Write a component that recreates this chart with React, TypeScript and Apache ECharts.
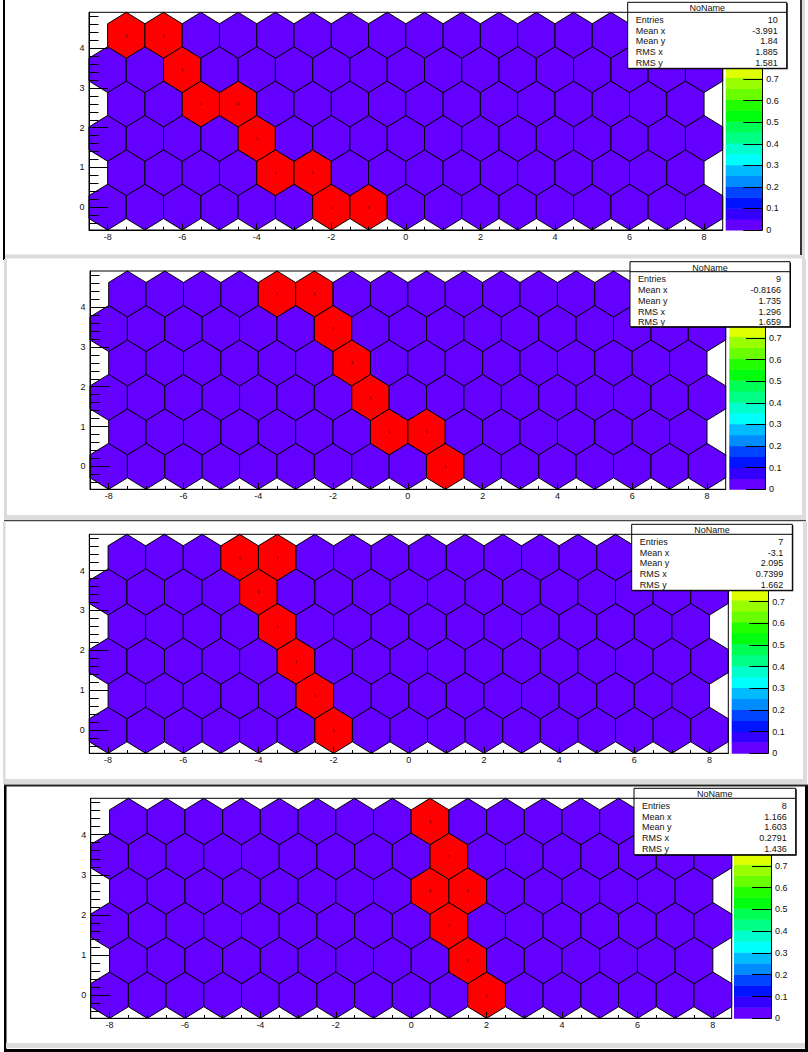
import React, { useEffect, useRef } from "react";
import * as echarts from "echarts";

// ---------- data ----------
const X_MIN = -8.5;
const X_MAX = 8.5;
const HEX_SIDE = 0.57735; // side of each honeycomb cell (cell width = 1)
const ROW_Y = [0, 0.866, 1.7321, 2.5981, 3.4641, 4.3301];
const EVEN_ROW_X = [-8, -7, -6, -5, -4, -3, -2, -1, 0, 1, 2, 3, 4, 5, 6, 7, 8];
const ODD_ROW_X = [-7.5, -6.5, -5.5, -4.5, -3.5, -2.5, -1.5, -0.5, 0.5, 1.5, 2.5, 3.5, 4.5, 5.5, 6.5, 7.5];
const Y_MIN = -0.57735;
const Y_MAX = 4.90745;

const X_MAJOR_TICKS = [-8, -6, -4, -2, 0, 2, 4, 6, 8];
const X_MINOR_TICKS = [-8, -7.5, -7, -6.5, -6, -5.5, -5, -4.5, -4, -3.5, -3, -2.5, -2, -1.5, -1, -0.5, 0, 0.5, 1, 1.5, 2, 2.5, 3, 3.5, 4, 4.5, 5, 5.5, 6, 6.5, 7, 7.5, 8];
const Y_MAJOR_TICKS = [0, 1, 2, 3, 4];
const Y_MINOR_TICKS = [-0.4, -0.2, 0.2, 0.4, 0.6, 0.8, 1.2, 1.4, 1.6, 1.8, 2.2, 2.4, 2.6, 2.8, 3.2, 3.4, 3.6, 3.8, 4.2, 4.4, 4.6, 4.8];
const PALETTE_TICKS = [0, 0.1, 0.2, 0.3, 0.4, 0.5, 0.6, 0.7, 0.8, 0.9, 1];
const PALETTE_LABELS = [0, 0.1, 0.2, 0.3, 0.4, 0.5, 0.6, 0.7]; // the rest sit under the stats box
const Z_MAX = 1.01;
const PALETTE_COLORS = [
  "#6300ff", "#3300ff", "#0014ff", "#0044ff", "#008bff", "#00bbff", "#00fffc", "#00ffcc", "#00ff85", "#00ff55",
  "#00ff0e", "#22ff00", "#69ff00", "#99ff00", "#e0ff00", "#ffee00", "#ffa700", "#ff7700", "#ff3000", "#ff0000",
];

// filled bins: [x, y, content]
const FILLED_1 = [
  [-7.5, 4.3301, 1], [-6.5, 4.3301, 1], [-6, 3.4641, 1], [-5.5, 2.5981, 1], [-4.5, 2.5981, 1],
  [-4, 1.7321, 1], [-3.5, 0.866, 1], [-2.5, 0.866, 1], [-2, 0, 1], [-1, 0, 1],
];
const FILLED_2 = [
  [-3.5, 4.3301, 1], [-2.5, 4.3301, 1], [-2, 3.4641, 1], [-1.5, 2.5981, 1],
  [-1, 1.7321, 1], [-0.5, 0.866, 1], [0.5, 0.866, 1], [1, 0, 1],
];
const FILLED_3 = [
  [-4.5, 4.3301, 1], [-3.5, 4.3301, 1], [-4, 3.4641, 1], [-3.5, 2.5981, 1],
  [-3, 1.7321, 1], [-2.5, 0.866, 1], [-2, 0, 1],
];
const FILLED_4 = [
  [0.5, 4.3301, 1], [1, 3.4641, 1], [0.5, 2.5981, 1], [1.5, 2.5981, 1],
  [1, 1.7321, 1], [1.5, 0.866, 1], [2, 0, 1],
];

const STATS_TITLE = "NoName";
const STATS_LABELS = ["Entries", "Mean x", "Mean y", "RMS x", "RMS y"];
const STATS_1 = ["10", "-3.991", "1.84", "1.885", "1.581"];
const STATS_2 = ["9", "-0.8166", "1.735", "1.296", "1.659"];
const STATS_3 = ["7", "-3.1", "2.095", "0.7399", "1.662"];
const STATS_4 = ["8", "1.166", "1.603", "0.2791", "1.436"];

// ---------- layout ----------
const PANELS = [
  { frame: [89, 12.3, 722.7, 230], pal: [725.7, 762.3], stats: [627.7, 2.3, 786.7, 68.3], filled: FILLED_1, values: STATS_1 },
  { frame: [90, 271, 725.7, 489.3], pal: [729.3, 765], stats: [630, 261.7, 790, 326.7], filled: FILLED_2, values: STATS_2 },
  { frame: [89.3, 534.3, 728.3, 753.3], pal: [731.7, 768.3], stats: [631.7, 524.3, 792.3, 590.3], filled: FILLED_3, values: STATS_3 },
  { frame: [90.7, 798.3, 731.7, 1018.3], pal: [734, 771], stats: [634, 788.3, 795.7, 854.7], filled: FILLED_4, values: STATS_4 },
];

const FONT = "Liberation Sans, Arial, Helvetica, sans-serif";
const TXT = "#111";

function levelColor(v: number) {
  const lvl = Math.max(0, Math.min(PALETTE_COLORS.length - 1, Math.floor((v / Z_MAX) * PALETTE_COLORS.length)));
  return PALETTE_COLORS[lvl];
}

function buildBins(filled: number[][]) {
  const bins: number[][] = [];
  ROW_Y.forEach((y, r) => {
    const xs = r % 2 === 0 ? EVEN_ROW_X : ODD_ROW_X;
    xs.forEach((x) => {
      const f = filled.find((p) => Math.abs(p[0] - x) < 1e-6 && Math.abs(p[1] - y) < 1e-3);
      bins.push([x, y, f ? f[2] : 0]);
    });
  });
  return bins;
}

function chromeRects() {
  const R = (x: number, y: number, w: number, h: number, fill: string) => ({
    type: "rect", z: -10, silent: true, shape: { x, y, width: w, height: h }, style: { fill },
  });
  const G = "#dcdcdc";
  return [
    R(0, 0, 808, 1052, "#ffffff"),
    // panel 1
    R(3, 0, 2, 260, "#000"),
    R(5, 254.5, 797, 4, G),
    R(800, 0, 2, 255, "#333"),
    R(802, 0, 3, 259, G),
    // panel 2
    R(4, 259, 3, 262, G),
    R(802, 259, 4, 262, G),
    R(4, 515, 802, 5, G),
    R(4, 520, 802, 1.2, "#444"),
    // panel 3
    R(3, 521, 2.5, 263, G),
    R(803, 521, 4, 263, G),
    R(3, 779, 804, 5, G),
    // panel 4
    R(4, 784.5, 804, 2, "#222"),
    R(4, 786, 2.5, 266, "#000"),
    R(6, 1043, 799, 5, G),
    R(4, 1049, 804, 3, "#000"),
    R(805, 786, 3, 266, "#000"),
  ];
}

function statsBox(s: number[], values: string[]) {
  const [l, t, r, b] = s;
  const els: any[] = [];
  els.push({ type: "rect", z: 100, shape: { x: l + 1, y: t + 1, width: r - l, height: b - t }, style: { fill: "#000" } });
  els.push({ type: "rect", z: 101, shape: { x: l, y: t, width: r - l, height: b - t }, style: { fill: "#fff", stroke: "#000", lineWidth: 1 } });
  els.push({ type: "line", z: 102, shape: { x1: l, y1: t + 10, x2: r, y2: t + 10 }, style: { stroke: "#000", lineWidth: 1 } });
  els.push({
    type: "text", z: 102, x: (l + r) / 2, y: t + 5.8,
    style: { text: STATS_TITLE, align: "center", verticalAlign: "middle", fontSize: 9, fontFamily: FONT, fill: TXT },
  });
  STATS_LABELS.forEach((lab, i) => {
    const y = t + 17.5 + i * 10.8;
    els.push({
      type: "text", z: 102, x: l + 8, y,
      style: { text: lab, align: "left", verticalAlign: "middle", fontSize: 9, fontFamily: FONT, fill: TXT },
    });
    els.push({
      type: "text", z: 102, x: r - 9, y,
      style: { text: values[i], align: "right", verticalAlign: "middle", fontSize: 9, fontFamily: FONT, fill: TXT },
    });
  });
  return els;
}

function buildOption() {
  const grid: any[] = [];
  const xAxis: any[] = [];
  const yAxis: any[] = [];
  const series: any[] = [];
  const graphics: any[] = [...chromeRects()];
  const black = { color: "#000", width: 1 };
  const lbl = { fontSize: 9, fontFamily: FONT, color: TXT };

  PANELS.forEach((p, i) => {
    const [fl, ft, fr, fb] = p.frame;
    const gMain = grid.length;
    grid.push({
      left: fl, top: ft, width: fr - fl, height: fb - ft, show: true, borderColor: "#000", borderWidth: 1,
      backgroundColor: "transparent", containLabel: false, outerBoundsMode: "none",
    });
    grid.push({
      left: p.pal[0], top: ft, width: p.pal[1] - p.pal[0], height: fb - ft, show: false,
      containLabel: false, outerBoundsMode: "none",
    });
    const xBase = xAxis.length;
    xAxis.push({
      gridIndex: gMain, type: "value", min: X_MIN, max: X_MAX, position: "bottom",
      axisLine: { show: true, onZero: false, lineStyle: black },
      axisTick: { show: true, inside: true, length: 6.5, customValues: X_MAJOR_TICKS, lineStyle: black },
      axisLabel: { show: true, customValues: X_MAJOR_TICKS, margin: 2.5, ...lbl },
      splitLine: { show: false },
    });
    xAxis.push({
      gridIndex: gMain, type: "value", min: X_MIN, max: X_MAX, position: "bottom",
      axisLine: { show: false, onZero: false },
      axisTick: { show: true, inside: true, length: 3.3, customValues: X_MINOR_TICKS, lineStyle: black },
      axisLabel: { show: false },
      splitLine: { show: false },
    });
    xAxis.push({ gridIndex: gMain + 1, type: "value", min: 0, max: 1, show: false, axisLine: { onZero: false } });
    const yBase = yAxis.length;
    yAxis.push({
      gridIndex: gMain, type: "value", min: Y_MIN, max: Y_MAX, position: "left",
      axisLine: { show: true, onZero: false, lineStyle: black },
      axisTick: { show: true, inside: true, length: 19, customValues: Y_MAJOR_TICKS, lineStyle: black },
      axisLabel: { show: true, customValues: Y_MAJOR_TICKS, margin: 4.5, ...lbl },
      splitLine: { show: false },
    });
    yAxis.push({
      gridIndex: gMain, type: "value", min: Y_MIN, max: Y_MAX, position: "left",
      axisLine: { show: false, onZero: false },
      axisTick: { show: true, inside: true, length: 9.5, customValues: Y_MINOR_TICKS, lineStyle: black },
      axisLabel: { show: false },
      splitLine: { show: false },
    });
    yAxis.push({
      gridIndex: gMain + 1, type: "value", min: 0, max: Z_MAX, position: "right",
      axisLine: { show: true, onZero: false, lineStyle: black },
      axisTick: { show: true, inside: true, length: 19, customValues: PALETTE_TICKS, lineStyle: black },
      axisLabel: { show: true, customValues: PALETTE_LABELS, margin: 4, ...lbl },
      splitLine: { show: false },
    });

    series.push({
      type: "custom", name: "hex" + i, xAxisIndex: xBase, yAxisIndex: yBase, z: -1, silent: true,
      data: buildBins(p.filled),
      renderItem: (params: any, api: any) => {
        const cx = api.value(0), cy = api.value(1), v = api.value(2);
        const h = 0.5, a = HEX_SIDE;
        const verts = [
          [cx - h, cy - a / 2], [cx - h, cy + a / 2], [cx, cy + a],
          [cx + h, cy + a / 2], [cx + h, cy - a / 2], [cx, cy - a],
        ];
        const points = verts.map((q) => api.coord(q));
        const children: any[] = [
          { type: "polygon", shape: { points }, style: { fill: levelColor(v), stroke: "#000", lineWidth: 1 } },
        ];
        if (v > 0) {
          const c = api.coord([cx, cy]);
          children.push({
            type: "text", x: c[0], y: c[1],
            style: { text: String(v), align: "center", verticalAlign: "middle", fontSize: 4, fontFamily: FONT, fill: "#000" },
          });
        }
        return { type: "group", children };
      },
    });
    series.push({
      type: "custom", name: "palette" + i, xAxisIndex: xBase + 2, yAxisIndex: yBase + 2, z: -1, silent: true,
      data: PALETTE_COLORS.map((c, j) => [j]),
      renderItem: (params: any, api: any) => {
        const j = api.value(0);
        const n = PALETTE_COLORS.length;
        const p1 = api.coord([0, ((j + 1) * Z_MAX) / n]);
        const p2 = api.coord([1, (j * Z_MAX) / n]);
        return {
          type: "rect",
          shape: { x: p1[0], y: p1[1], width: p2[0] - p1[0], height: p2[1] - p1[1] + 0.5 },
          style: { fill: PALETTE_COLORS[j] },
        };
      },
    });

    graphics.push(...statsBox(p.stats, p.values));
  });

  return {
    animation: false,
    backgroundColor: "#ffffff",
    textStyle: { fontFamily: FONT },
    grid, xAxis, yAxis, series,
    graphic: { elements: graphics },
  };
}

export default function App() {
  const ref = useRef<HTMLDivElement>(null);
  useEffect(() => {
    if (!ref.current) return;
    const chart = echarts.init(ref.current, null, { renderer: "svg", width: 808, height: 1052 });
    chart.setOption(buildOption() as any);
    return () => chart.dispose();
  }, []);
  return (
    <div
      ref={ref}
      style={{ position: "fixed", left: 0, top: 0, width: 808, height: 1052, background: "#fff" }}
    />
  );
}
